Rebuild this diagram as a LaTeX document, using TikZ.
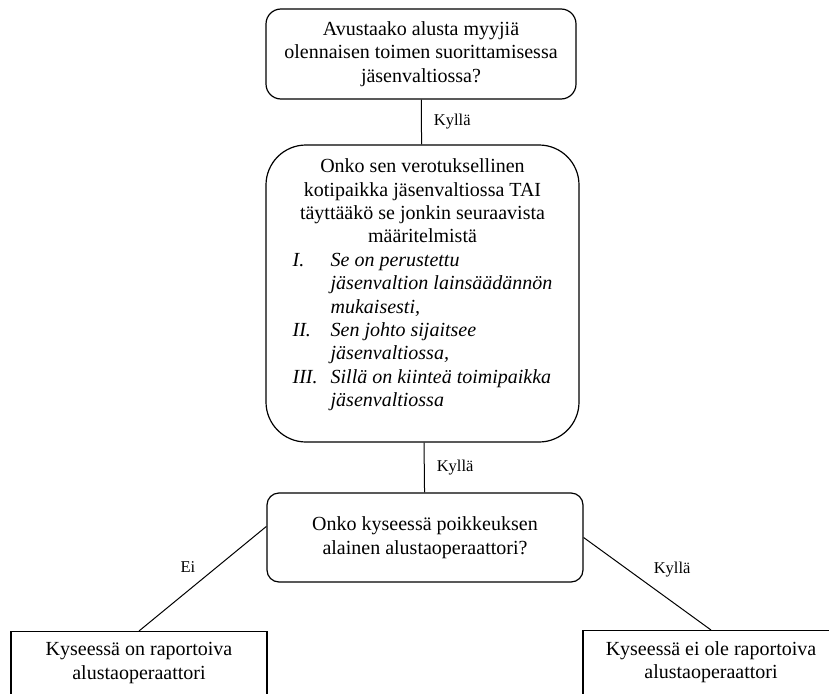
\documentclass[tikz,border=0pt]{standalone}
\usepackage{fontspec}
\setmainfont{Liberation Serif}
\usetikzlibrary{positioning}

\begin{document}
\begin{tikzpicture}[x=1pt,y=-1pt]
\tikzset{
block/.style={rectangle, rounded corners=15pt, draw=black, line width=1.2pt, align=center,
inner sep=0pt, font=\fontsize{20}{23.4}\selectfont},
endbox/.style={rectangle, draw=black, line width=1.2pt, align=center, anchor=north,
inner xsep=0pt, inner ysep=11pt, minimum width=256pt, text depth=40pt, font=\fontsize{20}{23.4}\selectfont},
myline/.style={line width=1pt},
mylabel/.style={inner sep=0pt, font=\fontsize{16.5}{19}\selectfont},
}
\useasboundingbox (0,0) rectangle (829,693);
\clip (0,0) rectangle (829,693);

\node [block, minimum width=310pt, minimum height=90pt] (alusta) at (421,54)
{Avustaako alusta myyjiä\\olennaisen toimen suorittamisessa\\jäsenvaltiossa?};
\node [block, rounded corners=40pt, minimum width=313pt, minimum height=297pt] (kotipaikka) at (422.5,293.5)
{\begin{tabular}{@{}p{38pt}@{}l@{}}
\multicolumn{2}{@{}c@{}}{Onko sen verotuksellinen}\\
\multicolumn{2}{@{}c@{}}{kotipaikka jäsenvaltiossa TAI}\\
\multicolumn{2}{@{}c@{}}{täyttääkö se jonkin seuraavista}\\
\multicolumn{2}{@{}c@{}}{määritelmistä}\\
\textit{I.} & \textit{Se on perustettu}\\
 & \textit{jäsenvaltion lainsäädännön}\\
 & \textit{mukaisesti,}\\
\textit{II.} & \textit{Sen johto sijaitsee}\\
 & \textit{jäsenvaltiossa,}\\
\textit{III.} & \textit{Sillä on kiinteä toimipaikka}\\
 & \textit{jäsenvaltiossa}\\[17pt]
\end{tabular}};
\node [block, rounded corners=12pt, minimum width=316pt, minimum height=89pt] (poikkeus) at (425,537.5)
{Onko kyseessä poikkeuksen\\alainen alustaoperaattori?};
\node [endbox] (raportoiva) at (139,631) {Kyseessä on raportoiva\\alustaoperaattori};
\node [endbox] (eiraportoiva) at (711,630) {Kyseessä ei ole raportoiva\\alustaoperaattori};

\draw[myline] (alusta) -- node[mylabel, right=12pt] {Kyllä} (kotipaikka);
\draw[myline] (kotipaikka) -- node[mylabel, right=12pt] {Kyllä} (poikkeus);
\draw[myline] (poikkeus.176) -- node[mylabel, above left=6pt and 7pt] {Ei} (raportoiva.north);
\draw[myline] (poikkeus.east) -- node[mylabel, above right=6pt and 6pt] {Kyllä} (eiraportoiva.north);
\end{tikzpicture}
\end{document}
